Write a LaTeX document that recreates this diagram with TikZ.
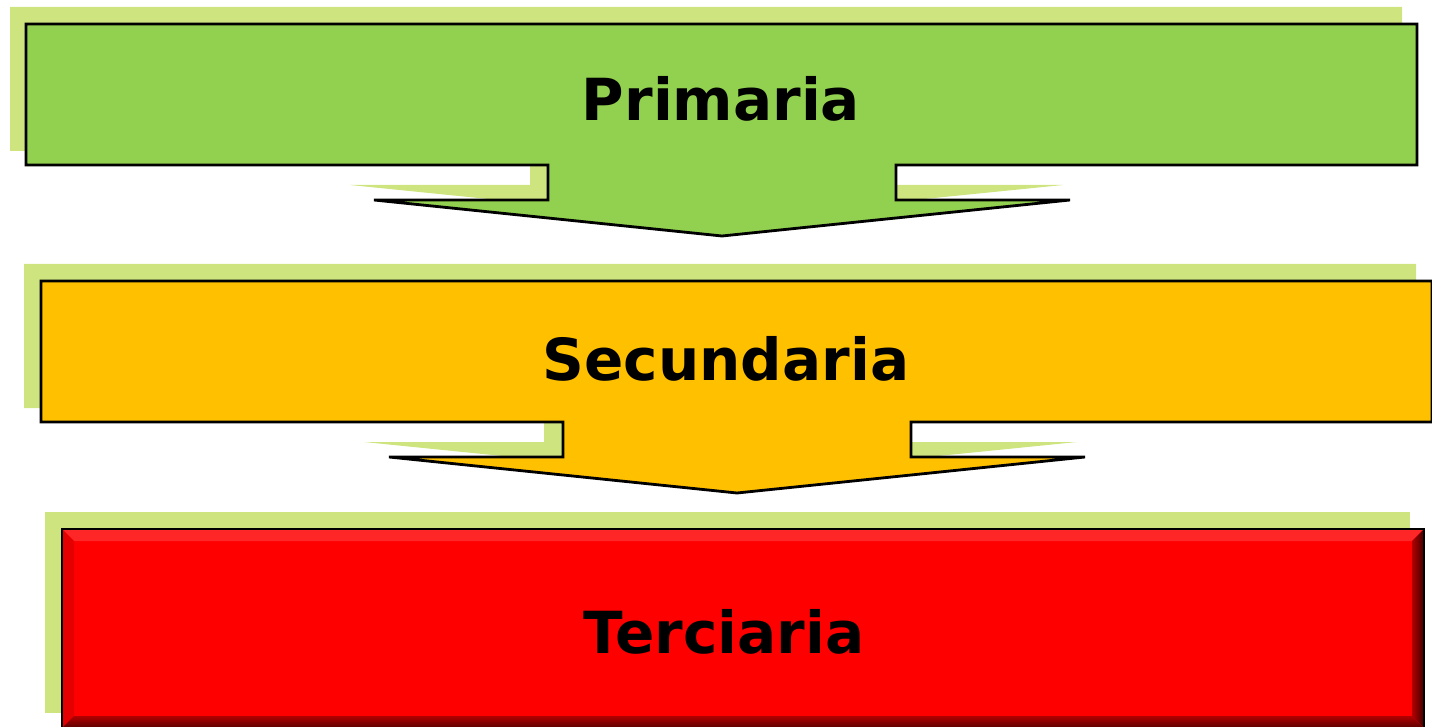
\documentclass[tikz,border=0pt]{standalone}
\usepackage{fontspec}
\setmainfont{DejaVu Sans}
\usetikzlibrary{positioning,calc}
\definecolor{primgreen}{HTML}{92D050}
\definecolor{shadegreen}{HTML}{CDE47F}
\definecolor{secorange}{HTML}{FFC000}
\definecolor{terred}{HTML}{FE0000}
\tikzset{
    stage/.style={draw=black, line width=2.8pt, line join=miter},
    backshade/.style={fill=shadegreen},
    stagetext/.style={font=\fontsize{58}{60}\selectfont\bfseries, text=black, inner sep=0pt, anchor=base}
}
% outline of one down arrow callout and of its shadow
\newcommand{\calloutpath}{(26,24) -- (1417,24) -- (1417,165) -- (896,165) -- (896,200) -- (1070,200)
    -- (722,236) -- (374,200) -- (548,200) -- (548,165) -- (26,165) -- cycle}
\newcommand{\shadepath}{(10,7) -- (1402,7) -- (1402,151) -- (882,151) -- (882,185) -- (1063,185)
    -- (706,221) -- (350,185) -- (530,185) -- (530,151) -- (10,151) -- cycle}

\begin{document}
\begin{tikzpicture}[x=1pt, y=-1pt]
    \useasboundingbox (0,0) rectangle (1432,727);
    % first stage
    \fill[backshade] \shadepath;
    \draw[stage, fill=primgreen] \calloutpath;
    \node[stagetext] (prim) at (721,121) {Primaria};
    % second stage
    \begin{scope}[shift={(14,257)}]
        \fill[backshade] \shadepath;
    \end{scope}
    \begin{scope}[shift={(15,257)}]
        \draw[stage, fill=secorange] \calloutpath;
    \end{scope}
    \node[stagetext] (sec) at (726,380) {Secundaria};
    % third stage, bevelled box
    \fill[backshade] (45,512) rectangle (1410,713);
    \fill[terred] (62,529) rectangle (1424,728);
    \fill[terred!85!white] (62,529) -- (1424,529) -- (1412,541) -- (74,541) -- cycle;
    \fill[terred!90!black] (62,529) -- (74,541) -- (74,716) -- (62,728) -- cycle;
    \shade[left color=terred!70!black, right color=terred!25!black] (1424,529) -- (1424,728) -- (1412,716) -- (1412,541) -- cycle;
    \shade[top color=terred!70!black, bottom color=terred!35!black] (74,716) -- (1412,716) -- (1424,728) -- (62,728) -- cycle;
    \draw[black, line width=1.6pt] (62,529) rectangle (1424,728);
    \node[stagetext] (ter) at (724,653) {Terciaria};
\end{tikzpicture}
\end{document}
